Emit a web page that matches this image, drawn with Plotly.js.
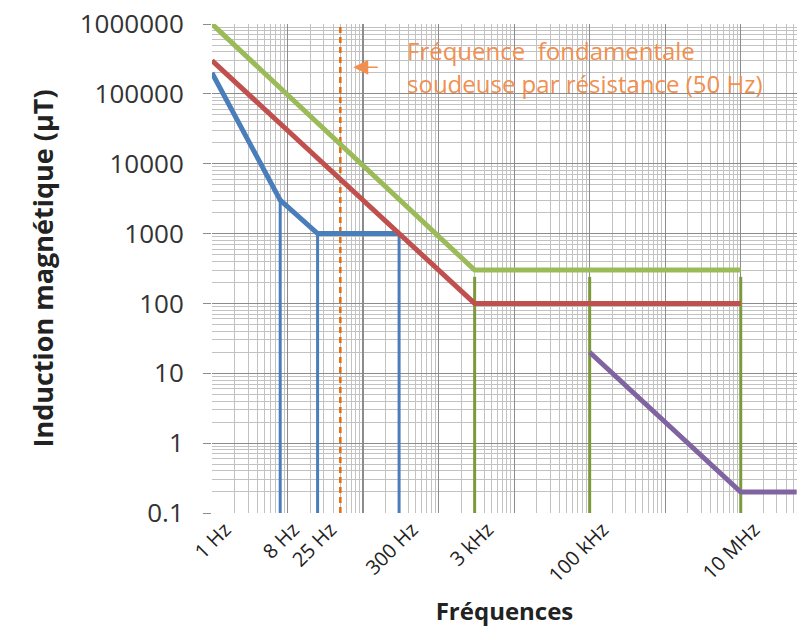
<!DOCTYPE html>
<html><head><meta charset="utf-8">
<script src="https://cdn.plot.ly/plotly-3.0.1.min.js"></script>
<style>html,body{margin:0;padding:0;background:#fff}#chart{width:808px;height:637px}</style>
</head><body><div id="chart"></div>
<script>
// ---- data ----
const tickFreqs = [1, 8, 25, 300, 3000, 100000, 10000000];
const tickLabels = ["1 Hz", "8 Hz", "25 Hz", "300 Hz", "3 kHz", "100 kHz", "10 MHz"];
const yTickVals = [0.1, 1, 10, 100, 1000, 10000, 100000, 1000000];
const yTickLabels = ["0.1", "1", "10", "100", "1000", "10000", "100000", "1000000"];
const blueFreq = [1, 8, 25, 300];
const blueB = [200000, 3000, 1000, 1000];
const redFreq = [1, 3000, 10000000];
const redB = [300000, 100, 100];
const greenFreq = [1, 3000, 10000000];
const greenB = [1000000, 300, 300];
const purpleFreq = [100000, 10000000, 55000000];
const purpleB = [20, 0.2, 0.2];
const blueDropFreq = [8, 25, 300];
const blueDropTop = [3000, 1000, 1000];
const greenDropFreq = [3000, 100000, 10000000];
const greenDropTop = [240, 240, 240];
const floorB = 0.1;
const ceilB = 1000000;
const weldFreq = 50;
const annotLine1 = "Fréquence  fondamentale";
const annotLine2 = "soudeuse par résistance (50 Hz)";

// ---- helpers ----
function drops(xs, tops, bottom) {
  const x = [], y = [];
  xs.forEach((f, i) => { x.push(f, f, null); y.push(tops[i], bottom, null); });
  return {x, y};
}
const bd = drops(blueDropFreq, blueDropTop, floorB);
const gd = drops(greenDropFreq, greenDropTop, floorB);

const C_BLUE = '#4a7ebb', C_RED = '#c0504d', C_GREEN = '#9bbb59', C_PURPLE = '#8064a2', C_ORANGE = '#e46c0a';
const C_TXT_OR = '#f28f4e';

const traces = [
  // invisible trace so that the grid-only axis pair (x, y) is drawn
  {x: [tickFreqs[0]], y: [floorB], mode: 'markers', marker: {opacity: 0}, xaxis: 'x', yaxis: 'y', hoverinfo: 'skip'},
  {x: bd.x, y: bd.y, mode: 'lines', line: {color: C_BLUE, width: 3}, xaxis: 'x2', yaxis: 'y', hoverinfo: 'skip'},
  {x: gd.x, y: gd.y, mode: 'lines', line: {color: '#7c9a3c', width: 3}, xaxis: 'x2', yaxis: 'y', hoverinfo: 'skip'},
  {x: [weldFreq, weldFreq], y: [floorB, ceilB], mode: 'lines', line: {color: C_ORANGE, width: 2.5, dash: '6px,4px'}, xaxis: 'x2', yaxis: 'y'},
  {x: blueFreq, y: blueB, mode: 'lines', line: {color: C_BLUE, width: 5}, xaxis: 'x2', yaxis: 'y'},
  {x: redFreq, y: redB, mode: 'lines', line: {color: C_RED, width: 5}, xaxis: 'x2', yaxis: 'y'},
  {x: greenFreq, y: greenB, mode: 'lines', line: {color: C_GREEN, width: 5}, xaxis: 'x2', yaxis: 'y'},
  {x: purpleFreq, y: purpleB, mode: 'lines', line: {color: C_PURPLE, width: 5}, xaxis: 'x2', yaxis: 'y'}
];

const XR = [0, 7.745];
const FONT = '"Open Sans", "Noto Sans", sans-serif';

const layout = {
  width: 808, height: 637,
  margin: {l: 212, r: 11, t: 24, b: 124},
  paper_bgcolor: '#fff', plot_bgcolor: '#fff',
  showlegend: false,
  font: {family: FONT, color: '#333'},
  xaxis: {
    type: 'log', range: XR, dtick: 1, showticklabels: false, ticks: '',
    showgrid: true, gridcolor: '#8c8c8c', gridwidth: 1.2, zeroline: false, showline: false,
    minor: {dtick: 'D1', showgrid: true, gridcolor: '#c2c2c2', gridwidth: 1, ticks: ''}
  },
  xaxis2: {
    type: 'log', range: XR, overlaying: 'x', anchor: 'y', side: 'bottom',
    tickmode: 'array', tickvals: tickFreqs, ticktext: tickLabels, tickangle: -45,
    tickfont: {size: 20, color: '#222', family: FONT}, ticklabelshift: 13,
    showgrid: false, zeroline: false, showline: false, ticks: '',
    title: {text: '<b>Fréquences</b>', font: {size: 24, color: '#222', family: FONT}, standoff: 16}
  },
  yaxis: {
    type: 'log', range: [-1, 6], tickmode: 'array', tickvals: yTickVals, ticktext: yTickLabels,
    tickfont: {size: 26, color: '#333', family: FONT},
    ticks: 'outside', ticklen: 8, tickcolor: '#8c8c8c', ticklabelstandoff: 14,
    showgrid: true, gridcolor: '#8c8c8c', gridwidth: 1.2, zeroline: false, showline: false,
    minor: {dtick: 'D1', showgrid: true, gridcolor: '#c2c2c2', gridwidth: 1, ticks: ''},
    title: {text: '<b>Induction magnétique (µT)</b>', font: {size: 27, color: '#222', family: FONT}, standoff: 18}
  },
  annotations: [
    {xref: 'x2', yref: 'y', x: 2.56, y: 5.62, xanchor: 'left', yanchor: 'middle', text: annotLine1,
     showarrow: false, font: {size: 24, color: C_TXT_OR, family: FONT}},
    {xref: 'x2', yref: 'y', x: 2.56, y: 5.15, xanchor: 'left', yanchor: 'middle', text: annotLine2,
     showarrow: false, font: {size: 24, color: C_TXT_OR, family: FONT}},
    {xref: 'x2', yref: 'y', x: 1.87, y: 5.38, ax: 26, ay: 0, text: '', showarrow: true,
     arrowhead: 2, arrowsize: 2, arrowwidth: 1.5, arrowcolor: C_TXT_OR}
  ]
};

Plotly.newPlot('chart', traces, layout, {staticPlot: true});
</script>
</body></html>
